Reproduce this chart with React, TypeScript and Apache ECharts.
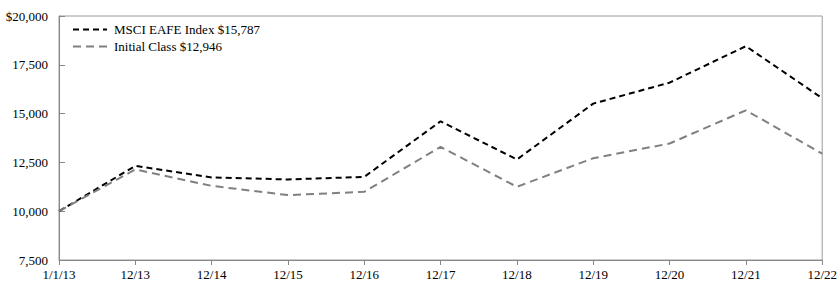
import React, { useEffect, useRef } from "react";
import * as echarts from "echarts";

const categories = ["1/1/13", "12/13", "12/14", "12/15", "12/16", "12/17", "12/18", "12/19", "12/20", "12/21", "12/22"];
const msciValues = [10000, 12322, 11729, 11626, 11759, 14607, 12649, 15512, 16585, 18456, 15787];
const initialValues = [10000, 12138, 11299, 10824, 10993, 13293, 11248, 12715, 13467, 15169, 12946];
const seriesNames = ["MSCI EAFE Index $15,787", "Initial Class $12,946"];

const FONT = "'Liberation Serif', 'Times New Roman', serif";

export default function App() {
  const ref = useRef<HTMLDivElement>(null);
  useEffect(() => {
    if (!ref.current) return;
    const chart = echarts.init(ref.current, undefined, { renderer: "svg" });
    chart.setOption({
      animation: false,
      textStyle: { fontFamily: FONT },
      grid: {
        left: 59,
        right: 15,
        top: 16,
        bottom: 27,
        show: true,
        borderColor: "#9a9a9a",
        borderWidth: 1,
        containLabel: false,
      },
      legend: {
        orient: "vertical",
        left: 72,
        top: 23,
        itemWidth: 34,
        itemHeight: 10,
        itemGap: 4,
        padding: [0, 5, 0, 0],
        itemStyle: { color: "transparent", borderWidth: 0, opacity: 0 },
        textStyle: { fontFamily: FONT, fontSize: 13, color: "#000", padding: [0, 0, 0, 2] },
        data: seriesNames,
      },
      xAxis: {
        type: "category",
        data: categories,
        boundaryGap: false,
        axisLine: { lineStyle: { color: "#888" } },
        axisTick: { show: true, length: 5, alignWithLabel: true, lineStyle: { color: "#888" } },
        axisLabel: { color: "#000", fontFamily: FONT, fontSize: 13, margin: 8, interval: 0 },
        splitLine: { show: false },
      },
      yAxis: {
        type: "value",
        min: 7500,
        max: 20000,
        interval: 2500,
        axisLine: { show: true, lineStyle: { color: "#888" } },
        axisTick: { show: true, inside: true, length: 6, lineStyle: { color: "#888" } },
        axisLabel: {
          color: "#000",
          fontFamily: FONT,
          fontSize: 13,
          margin: 11,
          formatter: (v: number) => (v === 20000 ? "$" : "") + v.toLocaleString("en-US"),
        },
        splitLine: { show: false },
      },
      series: [
        {
          name: seriesNames[0],
          type: "line",
          data: msciValues,
          symbol: "none",
          lineStyle: { color: "#000", width: 2, type: [6, 4] },
          itemStyle: { color: "#000" },
        },
        {
          name: seriesNames[1],
          type: "line",
          data: initialValues,
          symbol: "none",
          lineStyle: { color: "#808080", width: 2, type: [8, 5] },
          itemStyle: { color: "#808080" },
        },
      ],
    });
    return () => chart.dispose();
  }, []);
  return <div ref={ref} style={{ width: 840, height: 287, position: "absolute", left: 0, top: 0 }} />;
}
